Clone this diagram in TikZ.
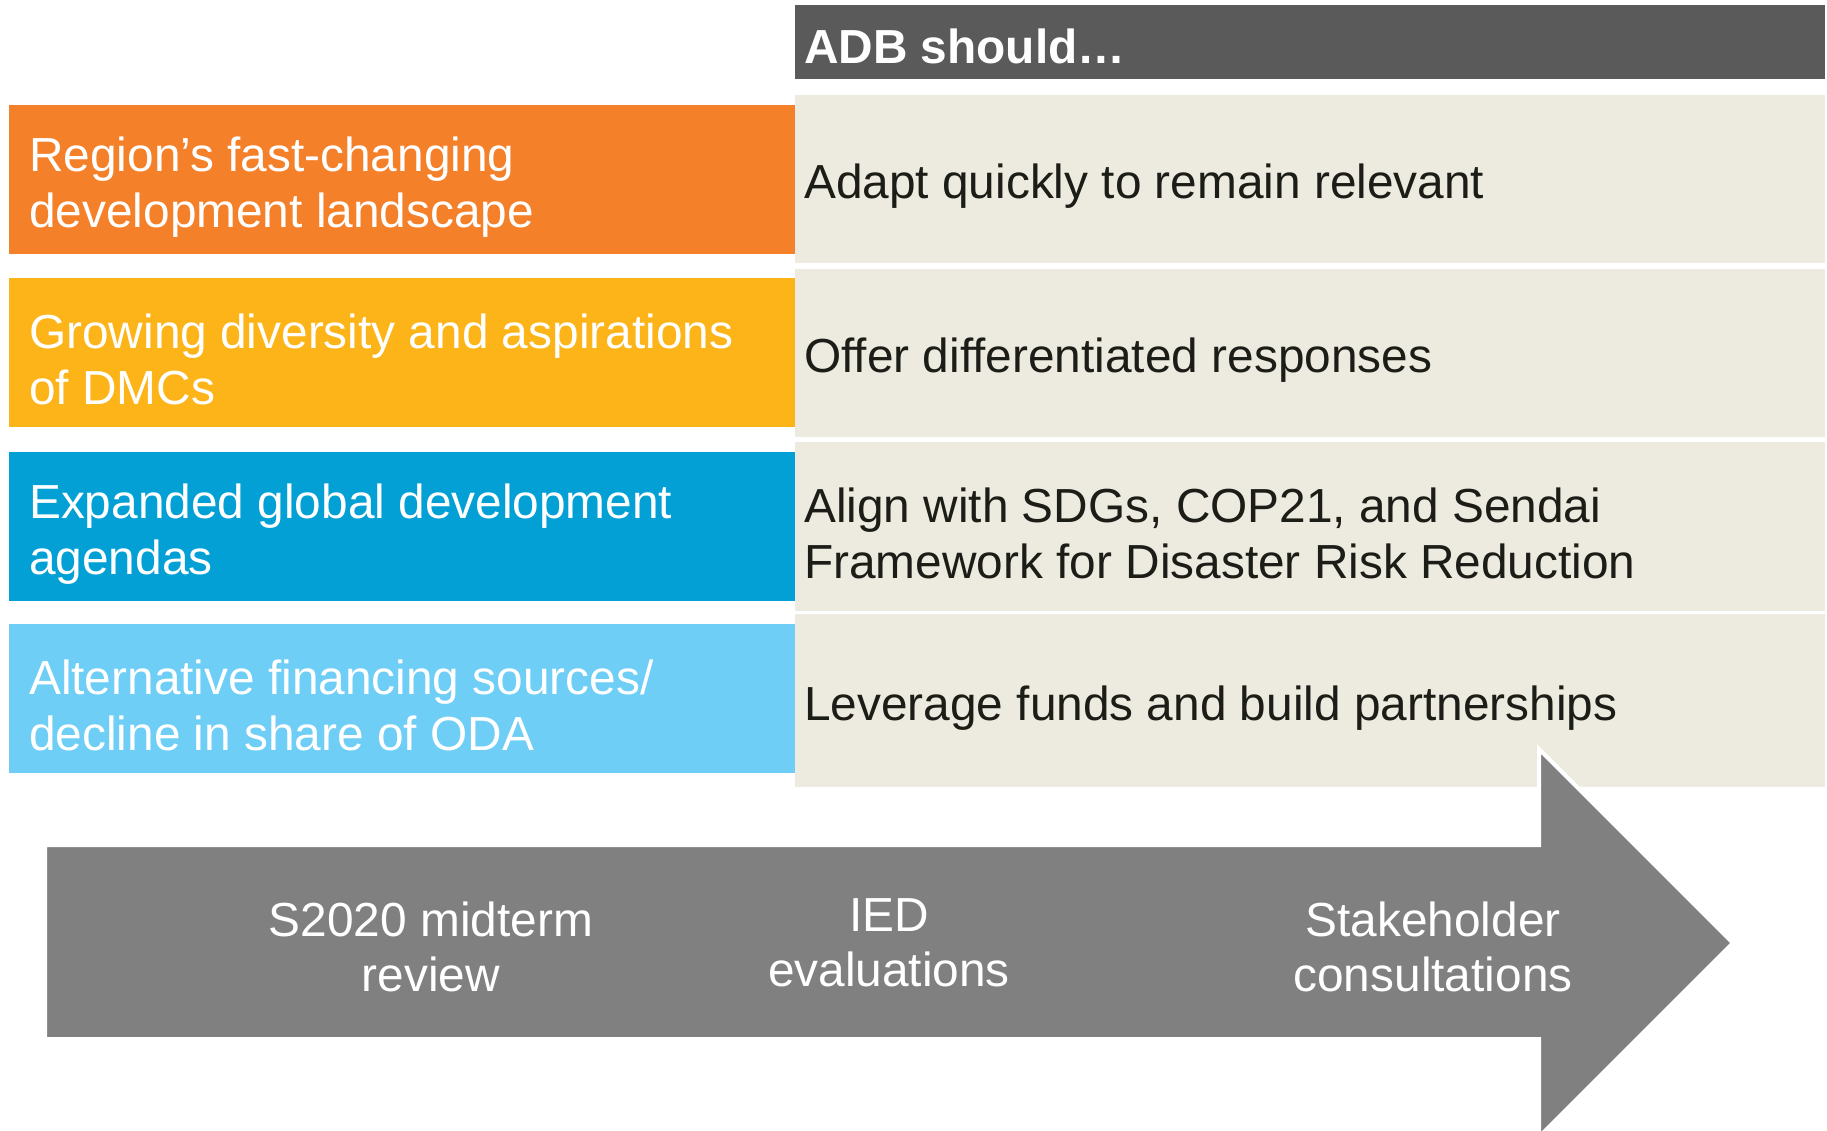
\documentclass[tikz,border=0pt]{standalone}
\usepackage{fontspec}
\setmainfont{Liberation Sans}
\usetikzlibrary{positioning}

\definecolor{headgray}{RGB}{90,90,90}
\definecolor{arrowgray}{RGB}{128,128,128}
\definecolor{beige}{RGB}{237,235,224}
\definecolor{darktext}{RGB}{29,29,24}
\definecolor{adborange}{RGB}{244,128,42}
\definecolor{adbyellow}{RGB}{253,180,24}
\definecolor{adbblue}{RGB}{2,160,213}
\definecolor{adblightblue}{RGB}{110,206,245}

\tikzset{
  driver/.style={rectangle, fill=#1, anchor=north west,
    minimum width=786pt, minimum height=149pt, inner sep=0pt},
  drivertext/.style={text=white, anchor=west, align=left, inner sep=0pt,
    xshift=20pt, yshift=-7pt, font=\fontsize{47.8}{56}\selectfont},
  response/.style={rectangle, fill=beige, anchor=north west,
    minimum width=1030pt, minimum height=#1, inner sep=0pt},
  responsetext/.style={text=darktext, anchor=west, align=left, inner sep=0pt,
    xshift=9pt, yshift=-7pt, font=\fontsize{47.8}{56}\selectfont},
  source/.style={text=white, align=center, font=\fontsize{47.8}{55}\selectfont}
}

\begin{document}
\begin{tikzpicture}[x=1pt, y=-1pt]
            \useasboundingbox (0,0) rectangle (1827,1130);

            % Header
            \node[rectangle, fill=headgray, anchor=north west, inner sep=0pt,
                  minimum width=1030pt, minimum height=74pt] (header) at (795,5) {};
            \node[text=white, anchor=west, inner sep=0pt, xshift=9pt, yshift=-4pt,
                  font=\bfseries\fontsize{47.8}{56}\selectfont]
                  (headtext) at (header.west) {ADB should\ldots};

            % Drivers (left column)
            \node[driver=adborange] (drv1) at (9,105) {};
            \node[driver=adbyellow] (drv2) at (9,278) {};
            \node[driver=adbblue] (drv3) at (9,452) {};
            \node[driver=adblightblue] (drv4) at (9,624) {};
            \node[drivertext] (drvtext1) at (drv1.west) {Region’s fast-changing\\development landscape};
            \node[drivertext] (drvtext2) at (drv2.west) {Growing diversity and aspirations\\of DMCs};
            \node[drivertext] (drvtext3) at (drv3.west) {Expanded global development\\agendas};
            \node[drivertext] (drvtext4) at (drv4.west) {Alternative financing sources/\\decline in share of ODA};

            % Responses (right column)
            \node[response=168pt] (resp1) at (795,95) {};
            \node[response=168pt] (resp2) at (795,269) {};
            \node[response=169pt] (resp3) at (795,442) {};
            \node[response=173pt] (resp4) at (795,614) {};
            \node[responsetext] (resptext1) at (resp1.west) {Adapt quickly to remain relevant};
            \node[responsetext] (resptext2) at (resp2.west) {Offer differentiated responses};
            \node[responsetext] (resptext3) at (resp3.west) {Align with SDGs, COP21, and Sendai\\Framework for Disaster Risk Reduction};
            \node[responsetext] (resptext4) at (resp4.west) {Leverage funds and build partnerships};

            % Big arrow
            \draw[fill=arrowgray, draw=white, line width=4pt, line join=miter]
                (45,845) -- (1539,845) -- (1539,749) -- (1733,943)
                -- (1539,1137) -- (1539,1039) -- (45,1039) -- cycle;

            % Sources along the arrow
            \node[source] (mtr) at (431,947) {S2020 midterm\\review};
            \node[source] (ied) at (889,943) {IED\\evaluations};
            \node[source] (stk) at (1433,947) {Stakeholder\\consultations};

        \end{tikzpicture}
\end{document}
